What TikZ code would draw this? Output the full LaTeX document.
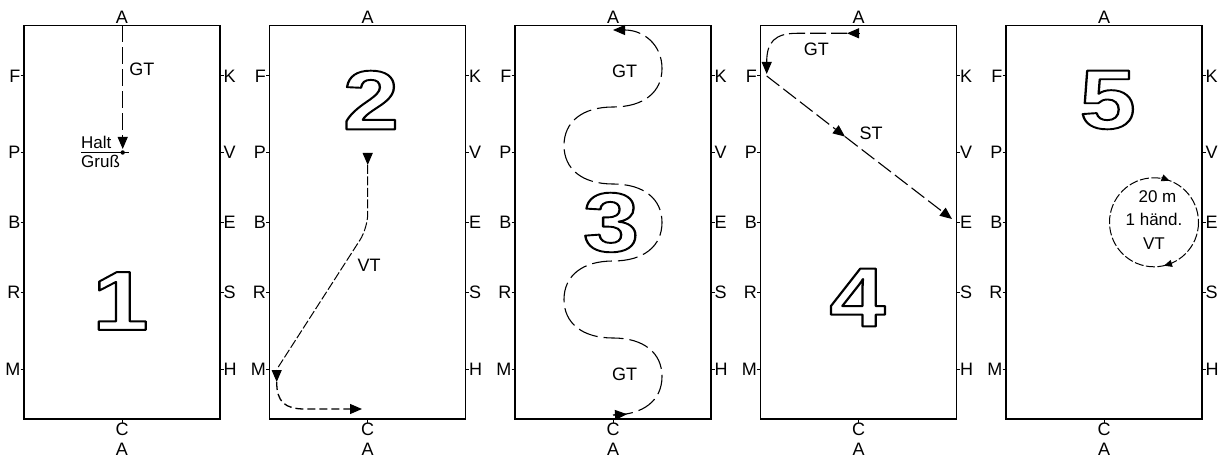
\documentclass[tikz,border=0pt]{standalone}
\usepackage{fontspec}
\setmainfont{Liberation Sans}
\usetikzlibrary{arrows.meta}
\newcommand\outlinedigitbox[1]{%
  \special{pdf:literal direct q 1 Tr 1.9 w 1 j 0 G}%
  \scalebox{1.2}[1]{#1}%
  \special{pdf:literal direct Q}}
\begin{document}
\begin{tikzpicture}[x=1pt,y=-1pt,
  lbl/.style={font=\fontsize{18}{21}\selectfont, inner sep=0pt},
  smalllbl/.style={font=\fontsize{17}{20}\selectfont, inner sep=0pt},
  digit/.style={inner sep=0pt, font=\fontsize{84}{84}\selectfont\bfseries},
  arena/.style={line width=1.3pt},
  tickline/.style={line width=1pt},
  tipend/.style={-{Triangle[length=12pt,width=10pt]}},
  headonly/.style={-{Triangle[length=12pt,width=10pt]}, line width=1pt},
  smallhead/.style={-{Triangle[length=8pt,width=7pt]}, line width=0.8pt},
  pathone/.style={line width=1.1pt, dash pattern=on 17pt off 5pt},
  pathtwo/.style={line width=1pt, dash pattern=on 9pt off 2.5pt},
  pathtwob/.style={line width=1.3pt, dash pattern=on 8pt off 4pt},
  paththree/.style={line width=1.1pt, dash pattern=on 20pt off 6pt},
  pathfour/.style={line width=1.1pt, dash pattern=on 16pt off 5pt},
  pathfive/.style={line width=1pt, dash pattern=on 9pt off 2.5pt}
]
\fill[white] (0,0) rectangle (1232,457);
\useasboundingbox (0,0) rectangle (1232,457);

\foreach \i in {0,...,4} {
  \pgfmathsetmacro\L{24+245.5*\i}
  \pgfmathsetmacro\R{\L+196}
  \pgfmathsetmacro\C{\L+98}
  \draw[arena] (\L,25.5) rectangle (\R,419);
  \foreach \ly/\ll/\rl in {76/F/K,152.5/P/V,222.3/B/E,292.5/R/S,369.5/M/H} {
    \draw[tickline] (\L-3.5,\ly) -- (\L,\ly);
    \node[lbl,anchor=east] (l\i\ll) at (\L-3.5,\ly) {\ll};
    \draw[tickline] (\R,\ly) -- (\R+3.5,\ly);
    \node[lbl,anchor=west] (r\i\rl) at (\R+3.5,\ly) {\rl};
  }
  \node[lbl,anchor=base] (top\i) at (\C,24) {A};
  \draw[tickline] (\C,419) -- (\C,422.5);
  \node[lbl,anchor=north] (c\i) at (\C,422.5) {C};
  \node[lbl,anchor=base] (a\i) at (\C,455.5) {A};
}

% digits
\node[digit] (d1) at (120.5,301) {\outlinedigitbox{1}};
\node[digit] (d2) at (371,100) {\outlinedigitbox{2}};
\node[digit] (d3) at (611,222.5) {\outlinedigitbox{3}};
\node[digit] (d4) at (857.5,297.5) {\outlinedigitbox{4}};
\node[digit] (d5) at (1107.7,100) {\outlinedigitbox{5}};

% arena 1
\draw[pathone,tipend] (122.7,25.5) -- (122.7,149);
\node[lbl] (gt1) at (141.9,69.2) {GT};
\draw[line width=1.2pt] (81,152.5) -- (129,152.5);
\fill (122.7,152.5) circle[radius=2.2];
\node[smalllbl,anchor=base west] (halt) at (81,148.5) {Halt};
\node[smalllbl,anchor=base west] (gruss) at (81,168) {Gruß};

% arena 2
\draw[headonly] (367.7,153) -- (367.7,165);
\draw[pathtwo,rounded corners=14pt] (367.7,165) -- (367.7,228) -- (277,369);
\draw[headonly] (276.7,369.5) -- (276.7,382);
\draw[pathtwob,tipend] (276.7,382) .. controls (276.7,402) and (285,409) .. (305,409) -- (362,409);
\node[lbl] (vt2) at (369.2,265.5) {VT};

% arena 3
\draw[headonly] (614,415) -- (627,414.2);
\draw[paththree,tipend] (613,415)
  .. controls (643.4,415) and (662,400.4) .. (662,376.5)
  .. controls (662,352.6) and (643.4,338) .. (613,338)
  .. controls (582.6,338) and (564,323.4) .. (564,299.5)
  .. controls (564,275.6) and (582.6,261) .. (613,261)
  .. controls (643.4,261) and (662,246.4) .. (662,222.5)
  .. controls (662,198.6) and (643.4,184) .. (613,184)
  .. controls (582.6,184) and (564,169.4) .. (564,145.5)
  .. controls (564,121.6) and (582.6,107) .. (613,107)
  .. controls (643.4,107) and (662,92.4) .. (662,68.5)
  .. controls (662,44.6) and (643.4,30) .. (613,30);
\node[lbl] (gt3a) at (624.7,71.3) {GT};
\node[lbl] (gt3b) at (624.7,374.2) {GT};

% arena 4
\draw[headonly] (859,33.3) -- (847,33.3);
\draw[pathfour] (847,33.3) -- (797,33.3) .. controls (775,33.3) and (766.7,42) .. (766.7,62);
\draw[headonly] (766.7,62) -- (766.7,74);
\draw[pathfour,tipend] (766.7,76) -- (845,136.6);
\draw[pathfour,tipend] (845,136.6) -- (952,219);
\node[lbl] (gt4) at (816.3,49.7) {GT};
\node[lbl] (st4) at (871,133.7) {ST};

% arena 5
\draw[pathfive] (1154,222.3) circle[radius=44.5];
\draw[smallhead] (1161.5,177.6) -- (1169.5,180.8);
\draw[smallhead] (1172,263.3) -- (1164,265.7);
\node[smalllbl] (t20) at (1157.5,196.7) {20 m};
\node[smalllbl] (thand) at (1154,219) {1 händ.};
\node[smalllbl] (tvt) at (1154,243.3) {VT};
\end{tikzpicture}
\end{document}
